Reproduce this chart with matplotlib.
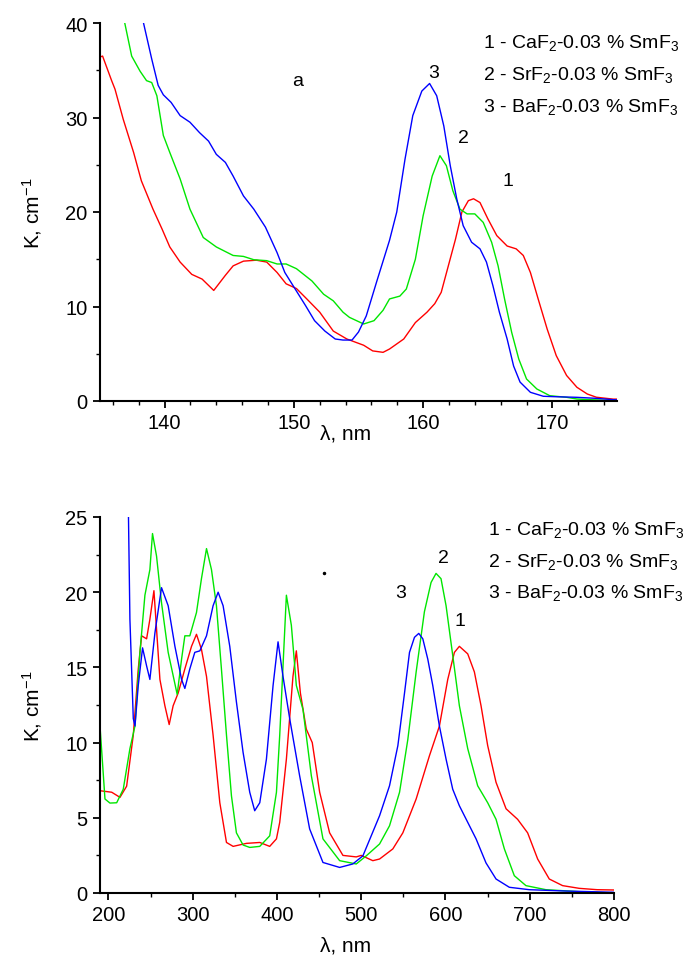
import matplotlib
matplotlib.use("Agg")
import matplotlib.pyplot as plt
from matplotlib.ticker import MultipleLocator

plt.rcParams['font.family'] = ['Liberation Sans', 'DejaVu Sans']
plt.rcParams['mathtext.fontset'] = 'custom'
plt.rcParams['mathtext.rm'] = 'Liberation Sans'
plt.rcParams['mathtext.it'] = 'Liberation Sans'

# ---------------- top panel (VUV) ----------------
top_x1 = [135.0, 135.2, 135.9, 136.16, 136.8, 137.6, 138.2, 139.1, 139.8, 140.4, 141.2, 142.1, 142.9,
          143.8, 144.7, 145.3, 146.1, 147.1, 147.9, 148.7, 149.4, 150.2, 151.0, 152.0, 153.05, 154.1,
          155.4, 156.1, 156.9, 157.4, 158.5, 159.4, 160.3, 160.9, 161.4, 161.95, 162.5, 163.0, 163.5,
          163.9, 164.4, 165.0, 165.7, 166.5, 167.2, 167.75, 168.3, 168.9, 169.6, 170.3, 171.1, 171.9,
          172.7, 173.4, 174.7, 175.0]
top_y1 = [36.4, 36.5, 33.9, 33.0, 29.8, 26.3, 23.3, 20.3, 18.2, 16.3, 14.7, 13.4, 12.9,
          11.7, 13.3, 14.3, 14.8, 14.9, 14.7, 13.6, 12.4, 11.9, 10.8, 9.4, 7.4, 6.56,
          5.9, 5.3, 5.15, 5.5, 6.56, 8.3, 9.4, 10.3, 11.5, 14.3, 17.1, 20.0, 21.2,
          21.4, 21.0, 19.3, 17.5, 16.4, 16.1, 15.4, 13.6, 10.8, 7.6, 4.8, 2.7, 1.45,
          0.74, 0.4, 0.2, 0.2]

top_x2 = [136.6, 136.9, 137.45, 138.1, 138.6, 139.0, 139.4, 139.9, 140.4, 141.2, 141.96, 142.99, 144.0,
          145.3, 146.1, 146.9, 147.9, 148.7, 149.4, 150.2, 151.4, 152.3, 153.05, 153.8, 154.3, 155.4,
          156.2, 156.9, 157.4, 158.2, 158.7, 159.4, 160.0, 160.7, 161.3, 161.8, 162.3, 162.85, 163.4,
          164.0, 164.65, 165.3, 165.8, 166.3, 166.85, 167.4, 168.0, 168.8, 169.8, 171.1, 171.9, 172.9,
          175.0]
top_y2 = [43.0, 40.1, 36.5, 34.9, 33.9, 33.7, 32.3, 28.1, 26.3, 23.5, 20.3, 17.3, 16.3,
          15.4, 15.3, 14.95, 14.85, 14.5, 14.5, 14.0, 12.7, 11.3, 10.6, 9.4, 8.85, 8.15,
          8.5, 9.6, 10.8, 11.1, 11.85, 15.0, 19.6, 23.8, 25.96, 24.9, 22.25, 20.3, 19.8,
          19.8, 18.9, 16.8, 14.3, 10.8, 7.27, 4.44, 2.33, 1.27, 0.56, 0.39, 0.21, 0.14,
          0.03]

top_x3 = [138.1, 138.35, 139.0, 139.5, 139.9, 140.5, 141.2, 141.96, 142.7, 143.4, 144.0, 144.7, 145.3,
          146.1, 146.9, 147.8, 148.7, 149.3, 150.1, 150.9, 151.6, 152.4, 153.2, 153.8, 154.5, 155.0,
          155.6, 156.4, 157.4, 157.96, 158.6, 159.2, 159.9, 160.5, 161.05, 161.6, 162.1, 162.6, 163.1,
          163.75, 164.4, 164.9, 165.4, 165.9, 166.5, 167.0, 167.5, 168.3, 169.3, 170.3, 171.9, 173.4,
          174.7, 175.0]
top_y3 = [43.0, 40.1, 36.2, 33.4, 32.4, 31.6, 30.2, 29.5, 28.4, 27.5, 26.1, 25.25, 23.8,
          21.7, 20.3, 18.4, 15.7, 13.6, 11.85, 10.1, 8.5, 7.4, 6.56, 6.45, 6.45, 7.3,
          9.0, 12.6, 17.0, 20.0, 25.6, 30.2, 32.8, 33.6, 32.3, 29.1, 24.9, 21.4, 18.55,
          16.8, 16.1, 14.7, 12.2, 9.4, 6.56, 3.7, 2.0, 0.92, 0.5, 0.45, 0.39, 0.28,
          0.14, 0.12]

# ---------------- bottom panel (UV-VIS) ----------------
bot_x1 = [190, 203.9, 213.7, 221.6, 229.5, 235.4, 239.4, 245.3, 249.2, 254.0, 257.1, 261.1, 267.0,
          272.1, 276.8, 282.8, 290.7, 298.6, 304.5, 310.4, 316.4, 324.2, 332.2, 340.1, 348.0, 363.8,
          379.6, 391.4, 399.4, 403.3, 411.2, 419.0, 423.0, 427.8, 434.8, 441.9, 450.7, 462.5, 478.3,
          494.1, 500.0, 513.8, 521.8, 537.5, 549.4, 565.2, 581.0, 592.8, 602.7, 610.6, 616.5, 626.4,
          634.3, 642.2, 650.1, 660.0, 671.9, 685.6, 697.5, 709.4, 723.2, 739.0, 758.7, 780.0, 800.0]
bot_y1 = [6.8, 6.7, 6.36, 7.1, 10.5, 14.9, 17.1, 16.9, 18.2, 20.1, 17.55, 14.2, 12.45,
          11.2, 12.45, 13.3, 14.9, 16.4, 17.2, 16.2, 14.4, 10.5, 6.0, 3.36, 3.1, 3.3,
          3.36, 3.1, 3.6, 4.7, 8.9, 14.4, 16.1, 13.3, 10.9, 10.0, 6.7, 4.0, 2.5,
          2.4, 2.5, 2.15, 2.26, 2.93, 4.0, 6.25, 9.13, 11.1, 14.2, 16.0, 16.4, 15.9,
          14.7, 12.45, 9.8, 7.36, 5.6, 4.9, 4.0, 2.26, 0.93, 0.49, 0.31, 0.22, 0.2]

bot_x2 = [190, 195.9, 201.8, 209.8, 217.6, 225.5, 231.5, 237.4, 243.3, 249.2, 252.3, 257.1, 263.0,
          270.9, 281.6, 286.8, 290.7, 296.6, 304.5, 310.4, 316.4, 322.3, 328.2, 334.1, 340.1, 346.0,
          351.9, 359.8, 367.7, 379.6, 391.4, 399.4, 403.3, 411.2, 417.1, 423.0, 430.9, 440.8, 454.6,
          474.4, 494.1, 506.0, 521.8, 533.6, 545.5, 555.3, 565.2, 575.0, 582.9, 588.8, 594.7, 600.7,
          608.6, 616.5, 626.4, 638.2, 650.1, 660.0, 669.9, 681.7, 695.5, 719.2, 758.7, 800.0]
bot_y2 = [11.1, 6.25, 5.98, 6.0, 6.9, 9.6, 11.1, 16.0, 19.8, 21.5, 23.9, 22.4, 19.3,
          16.0, 13.2, 15.55, 17.1, 17.1, 18.65, 20.9, 22.9, 21.5, 19.1, 14.9, 10.5, 6.46,
          4.0, 3.19, 3.03, 3.1, 3.8, 6.7, 10.5, 19.8, 17.8, 13.8, 12.2, 7.8, 3.6,
          2.15, 1.93, 2.47, 3.26, 4.47, 6.7, 10.2, 14.7, 18.7, 20.65, 21.25, 20.9, 19.1,
          15.8, 12.45, 9.6, 7.13, 6.0, 4.9, 2.93, 1.15, 0.49, 0.22, 0.09, 0.0]

bot_x3 = [223.3, 225.5, 229.5, 231.5, 235.4, 240.5, 245.3, 249.2, 255.2, 263.0, 270.9, 278.9, 286.8,
          290.7, 296.6, 302.5, 308.5, 316.4, 324.2, 330.2, 336.1, 344.0, 351.9, 359.8, 367.7, 373.6,
          379.6, 387.5, 395.4, 401.3, 407.2, 415.1, 426.9, 438.8, 454.6, 474.4, 490.0, 502.0, 521.8,
          533.6, 543.5, 551.4, 557.3, 563.2, 568.3, 573.1, 579.0, 584.9, 592.8, 600.7, 608.6, 616.5,
          626.4, 636.3, 648.1, 660.0, 675.8, 699.5, 743.0, 800.0]
bot_y3 = [27.0, 18.2, 11.6, 11.1, 13.8, 16.3, 15.1, 14.2, 17.3, 20.3, 19.1, 16.4, 14.2,
          13.6, 14.9, 16.0, 16.1, 17.1, 19.1, 20.0, 19.1, 16.4, 12.7, 9.35, 6.7, 5.47,
          6.0, 8.9, 13.8, 16.7, 14.4, 11.6, 7.8, 4.26, 2.03, 1.7, 1.93, 2.47, 5.14,
          7.13, 9.8, 13.3, 16.0, 17.0, 17.26, 16.9, 15.55, 13.8, 11.1, 8.9, 6.9, 5.8,
          4.7, 3.6, 2.0, 0.93, 0.38, 0.22, 0.13, 0.05]

legend_labels = ["1 - CaF$_2$-0.03 % SmF$_3$",
                 "2 - SrF$_2$-0.03 % SmF$_3$",
                 "3 - BaF$_2$-0.03 % SmF$_3$"]
colors = ['#ff0000', '#00e600', '#0000ff']

W, H = 686, 962
fig = plt.figure(figsize=(W / 100, H / 100), dpi=100)

def px_axes(l, t, r, b):
    return fig.add_axes([l / W, 1 - b / H, (r - l) / W, (b - t) / H])

ax1 = px_axes(100, 24, 617, 402)
ax2 = px_axes(100, 518, 614, 894)

for ax in (ax1, ax2):
    for s in ('top', 'right'):
        ax.spines[s].set_visible(False)
    for s in ('left', 'bottom'):
        ax.spines[s].set_linewidth(1.5)
    ax.tick_params(which='major', direction='out', length=5, width=1.3, labelsize=14.5, pad=4)
    ax.tick_params(which='minor', direction='out', length=3, width=1.0)

lw = 1.0
for xs, ys, c in ((top_x1, top_y1, colors[0]), (top_x2, top_y2, colors[1]), (top_x3, top_y3, colors[2])):
    ax1.plot(xs, ys, color=c, lw=lw, solid_joinstyle='round')
ax1.set_xlim(135, 175)
ax1.set_ylim(0, 40)
ax1.xaxis.set_major_locator(MultipleLocator(10))
ax1.xaxis.set_minor_locator(MultipleLocator(2))
ax1.yaxis.set_major_locator(MultipleLocator(10))
ax1.yaxis.set_minor_locator(MultipleLocator(5))

for xs, ys, c in ((bot_x1, bot_y1, colors[0]), (bot_x2, bot_y2, colors[1]), (bot_x3, bot_y3, colors[2])):
    ax2.plot(xs, ys, color=c, lw=lw, solid_joinstyle='round')
ax2.set_xlim(190, 800)
ax2.set_ylim(0, 25)
ax2.xaxis.set_major_locator(MultipleLocator(100))
ax2.xaxis.set_minor_locator(MultipleLocator(50))
ax2.yaxis.set_major_locator(MultipleLocator(5))
ax2.yaxis.set_minor_locator(MultipleLocator(2.5))

# curve labels
ax1.text(150.3, 33.9, "a", fontsize=14, ha='center', va='center')
ax1.text(160.8, 34.8, "3", fontsize=14, ha='center', va='center')
ax1.text(163.1, 27.9, "2", fontsize=14, ha='center', va='center')
ax1.text(166.6, 23.3, "1", fontsize=14, ha='center', va='center')
ax2.text(546.6, 20.0, "3", fontsize=14, ha='center', va='center')
ax2.text(597.6, 22.3, "2", fontsize=14, ha='center', va='center')
ax2.text(617.7, 18.1, "1", fontsize=14, ha='center', va='center')
ax2.plot([455.4], [21.3], 'k.', ms=3)

def ftext(x, y, s, **kw):
    fig.text(x / W, 1 - y / H, s, **kw)

for i, lab in enumerate(legend_labels):
    ftext(483, 43 + 32 * i, lab, fontsize=14, va='center', ha='left')
    ftext(488, 530 + 31.5 * i, lab, fontsize=14, va='center', ha='left')

ftext(32, 213, "K, cm$^{-1}$", fontsize=15, rotation=90, va='center', ha='center')
ftext(32, 706, "K, cm$^{-1}$", fontsize=15, rotation=90, va='center', ha='center')
ftext(346, 434, "λ, nm", fontsize=15, va='center', ha='center')
ftext(346, 946, "λ, nm", fontsize=15, va='center', ha='center')

fig.savefig("out.png", dpi=100)
